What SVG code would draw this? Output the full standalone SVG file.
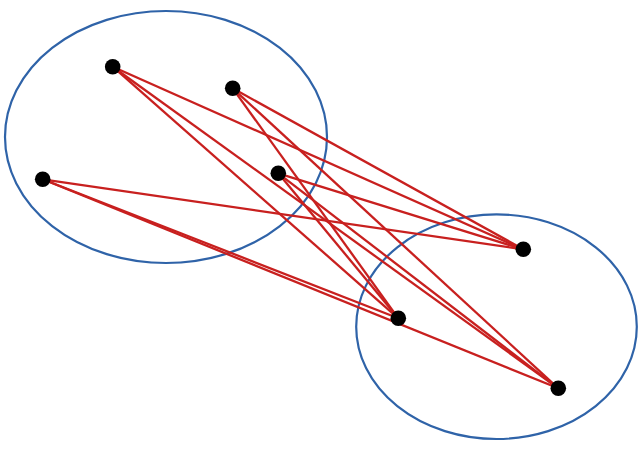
<svg xmlns="http://www.w3.org/2000/svg" width="641" height="455" viewBox="0 0 641 455">
  <style>
    .set { fill: none; stroke: #2F63A8; stroke-width: 2.2; }
    .edge { stroke: #C8201F; stroke-width: 2.3; fill: none; }
    .pt { fill: #000000; }
  </style>
  <rect width="641" height="455" fill="#ffffff"/>
  <g id="set-left">
    <ellipse class="set" cx="166" cy="137" rx="161" ry="126"/>
  </g>
  <g id="set-right">
    <ellipse class="set" cx="496.5" cy="326.7" rx="140.3" ry="112.3"/>
  </g>
  <g id="connectors">
    <line class="edge" x1="112.7" y1="66.7" x2="523.3" y2="249.3"/>
    <line class="edge" x1="112.7" y1="66.7" x2="398.3" y2="318.3"/>
    <line class="edge" x1="112.7" y1="66.7" x2="558.3" y2="388.3"/>
    <line class="edge" x1="232.7" y1="88.3" x2="523.3" y2="249.3"/>
    <line class="edge" x1="232.7" y1="88.3" x2="398.3" y2="318.3"/>
    <line class="edge" x1="232.7" y1="88.3" x2="558.3" y2="388.3"/>
    <line class="edge" x1="42.7" y1="179.3" x2="523.3" y2="249.3"/>
    <line class="edge" x1="42.7" y1="179.3" x2="398.3" y2="318.3"/>
    <line class="edge" x1="42.7" y1="179.3" x2="558.3" y2="388.3"/>
    <line class="edge" x1="278.3" y1="173.3" x2="523.3" y2="249.3"/>
    <line class="edge" x1="278.3" y1="173.3" x2="398.3" y2="318.3"/>
    <line class="edge" x1="278.3" y1="173.3" x2="558.3" y2="388.3"/>
  </g>
  <g id="node-a"><circle class="pt" cx="112.7" cy="66.7" r="7.8"/></g>
  <g id="node-b"><circle class="pt" cx="232.7" cy="88.3" r="7.8"/></g>
  <g id="node-c"><circle class="pt" cx="42.7" cy="179.3" r="7.8"/></g>
  <g id="node-d"><circle class="pt" cx="278.3" cy="173.3" r="7.8"/></g>
  <g id="node-e"><circle class="pt" cx="523.3" cy="249.3" r="7.8"/></g>
  <g id="node-f"><circle class="pt" cx="398.3" cy="318.3" r="7.8"/></g>
  <g id="node-g"><circle class="pt" cx="558.3" cy="388.3" r="7.8"/></g>
</svg>
